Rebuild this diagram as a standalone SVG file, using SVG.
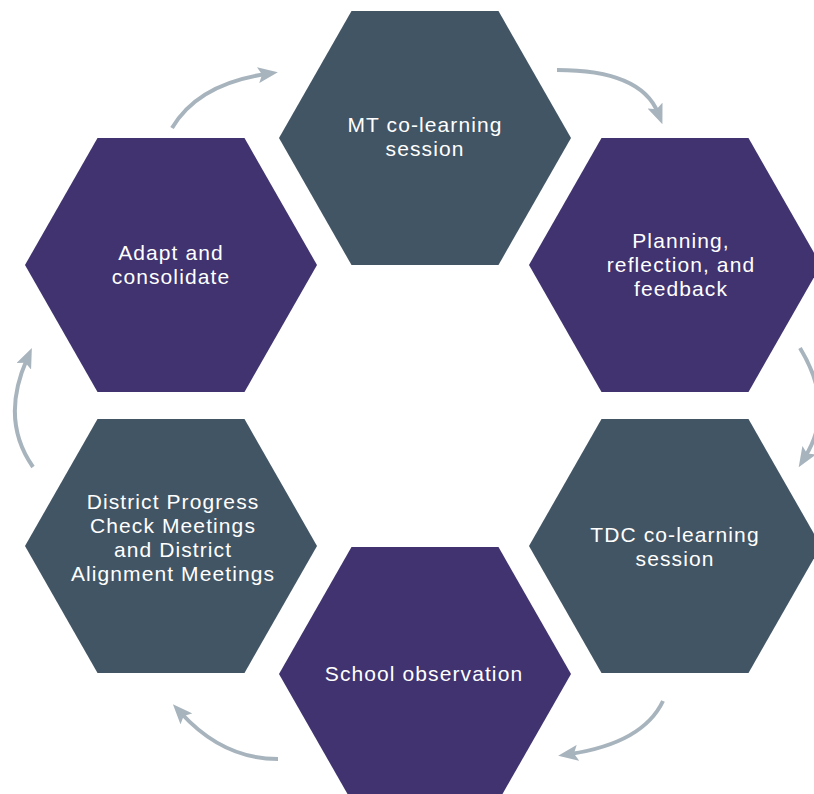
<svg xmlns="http://www.w3.org/2000/svg" width="814" height="794" viewBox="0 0 814 794">
  <style>
    .slate { fill: #425565; }
    .purple { fill: #40336f; }
    .label { fill: #ffffff; font-family: "Liberation Sans", Arial, sans-serif; font-size: 21px; letter-spacing: 1.1px; text-anchor: middle; }
    .flow { fill: none; stroke: #a8b4bd; stroke-width: 4; marker-end: url(#head); }
  </style>
  <defs>
    <!-- flat-topped hexagon centred on the origin -->
    <path id="hex" d="M-146,0 L-73.5,-127 L73.5,-127 L146,0 L73.5,127 L-73.5,127 Z"/>
    <marker id="head" markerUnits="userSpaceOnUse" viewBox="0 0 20 16" markerWidth="20" markerHeight="16" refX="8" refY="8" orient="auto">
      <path d="M0,0 L20,8 L0,16 L4,8 Z" fill="#a8b4bd"/>
    </marker>
  </defs>

  <rect width="814" height="794" fill="#ffffff"/>

  <g id="connectors">
    <path class="flow" d="M172,128 Q198,84 266,74"/>
    <path class="flow" d="M557,70 Q641,70 658,113"/>
    <path class="flow" d="M800,348 Q836,407 805,457"/>
    <path class="flow" d="M663,701 Q643,743 570,754"/>
    <path class="flow" d="M278,759 Q223,759 181,713"/>
    <path class="flow" d="M33,467 Q0,420 27,359"/>
  </g>

  <g id="mt-session">
    <use href="#hex" class="slate" transform="translate(425,138)"/>
    <text class="label" x="425" y="132">MT co-learning</text>
    <text class="label" x="425" y="156">session</text>
  </g>

  <g id="planning">
    <use href="#hex" class="purple" transform="translate(675,265)"/>
    <text class="label" x="681" y="248">Planning,</text>
    <text class="label" x="681" y="272">reflection, and</text>
    <text class="label" x="681" y="296">feedback</text>
  </g>

  <g id="tdc-session">
    <use href="#hex" class="slate" transform="translate(675,546)"/>
    <text class="label" x="675" y="542">TDC co-learning</text>
    <text class="label" x="675" y="566">session</text>
  </g>

  <g id="school-observation">
    <use href="#hex" class="purple" transform="translate(425,674)"/>
    <text class="label" x="424" y="681">School observation</text>
  </g>

  <g id="district-meetings">
    <use href="#hex" class="slate" transform="translate(171,546)"/>
    <text class="label" x="173" y="509">District Progress</text>
    <text class="label" x="173" y="533">Check Meetings</text>
    <text class="label" x="173" y="557">and District</text>
    <text class="label" x="173" y="581">Alignment Meetings</text>
  </g>

  <g id="adapt">
    <use href="#hex" class="purple" transform="translate(171,265)"/>
    <text class="label" x="171" y="260">Adapt and</text>
    <text class="label" x="171" y="284">consolidate</text>
  </g>
</svg>
